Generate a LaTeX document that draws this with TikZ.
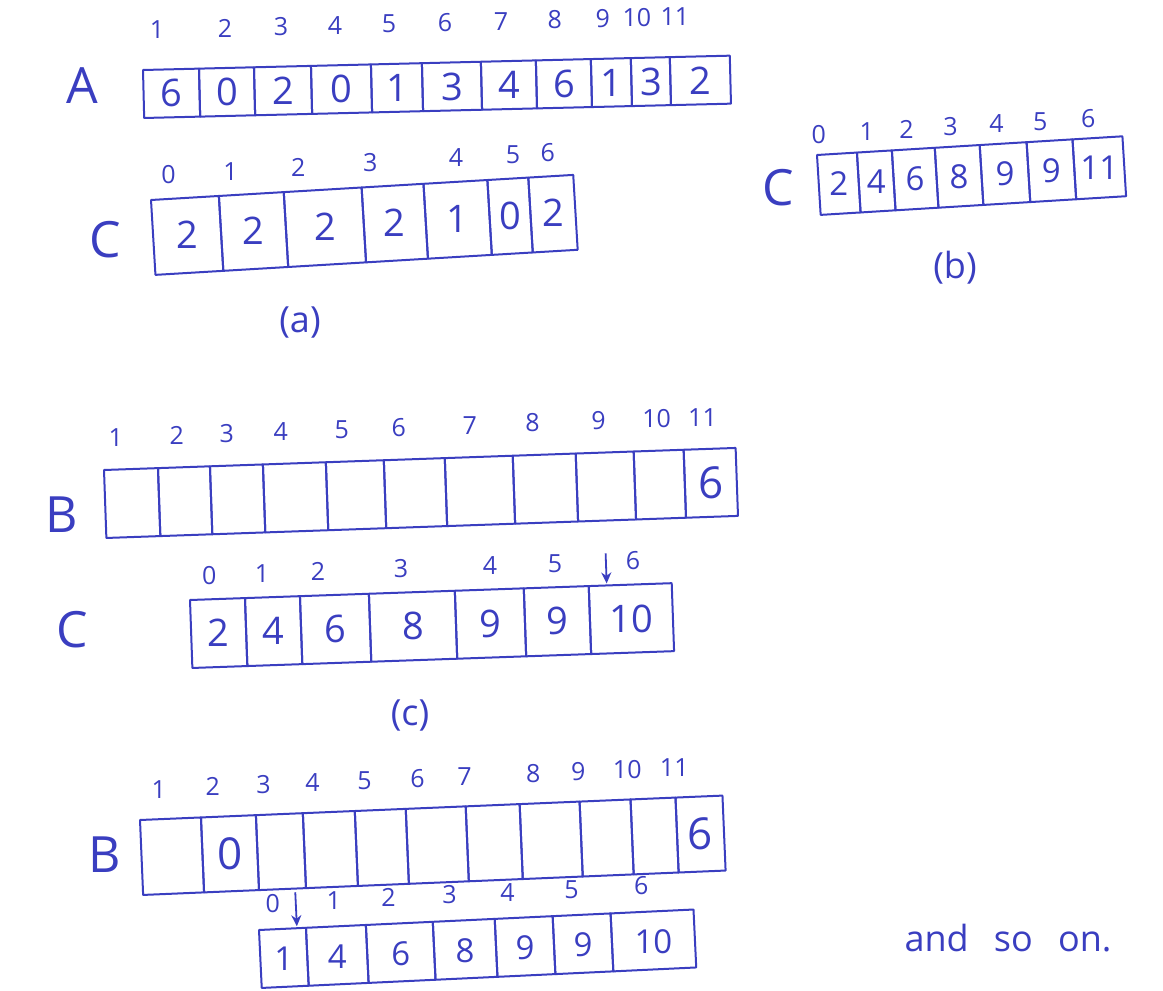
\documentclass[tikz,border=0pt]{standalone}
\usepackage{fontspec}
\setmainfont{Open Sans}
\usetikzlibrary{arrows.meta}
\definecolor{ink}{RGB}{58,62,192}
\tikzset{
  cellbox/.style={draw=ink, line width=2pt, line join=round},
  val/.style={text=ink, font=\fontsize{38}{40}\selectfont},
  smallval/.style={text=ink, font=\fontsize{33}{35}\selectfont},
  bigval/.style={text=ink, font=\fontsize{44}{46}\selectfont},
  idx/.style={text=ink, font=\fontsize{25}{27}\selectfont},
  lab/.style={text=ink, font=\fontsize{50}{52}\selectfont},
  sublab/.style={text=ink, font=\fontsize{36}{38}\selectfont},
  pointer/.style={draw=ink, line width=1.8pt, -{Stealth[length=11pt,width=10pt]}}
}
\begin{document}
\begin{tikzpicture}[x=1pt, y=-1pt]
\useasboundingbox (0,0) rectangle (1163,991);

% input array A
\node[lab] (labA) at (82,86) {A};
\begin{scope}[shift={(143,70)}, rotate=1.4]
  \foreach \a/\b/\v/\p/\n [count=\k] in {0/56/6/15/1, 56/111/0/83/2, 111/168/2/139/3,
      168/228/0/193/4, 228/279/1/247/5, 279/338/3/303/6, 338/393/4/359/7,
      393/448/6/413/8, 448/488/1/461/9, 488/527/3/495/10, 527/587/2/533/11} {
    \draw[cellbox] (\a,0) rectangle (\b,48);
    \node[val] (A\k) at ({(\a+\b)/2},24) {\v};
    \node[idx] (Ai\k) at (\p,-40) {\n};
  }
\end{scope}

% (a) counts
\node[lab] (labCa) at (105,240) {C};
\begin{scope}[shift={(151,200)}, rotate=3.4]
  \foreach \a/\b/\v/\p/\n [count=\k] in {0/68/2/19/0, 68/133/2/81/1, 133/211/2/149/2,
      211/273/2/221/3, 273/337/1/307/4, 337/378/0/364/5, 378/423/2/399/6} {
    \draw[cellbox] (\a,0) rectangle (\b,75);
    \node[val] (Ca\k) at ({(\a+\b)/2},37) {\v};
    \node[idx] (Cai\k) at (\p,-24) {\n};
  }
\end{scope}
\node[sublab] (capa) at (300,322) {(a)};

% (b) running sums
\node[lab] (labCb) at (778,188) {C};
\begin{scope}[shift={(817,155)}, rotate=3.5]
  \foreach \a/\b/\v/\p/\n [count=\k] in {0/40/2/3/0, 40/75/4/51/1, 75/118/6/91/2,
      118/163/8/135/3, 163/210/9/181/4, 210/256/9/225/5, 256/306/11/273/6} {
    \draw[cellbox] (\a,0) rectangle (\b,60);
    \node[smallval] (Cb\k) at ({(\a+\b)/2},30) {\v};
    \node[idx] (Cbi\k) at (\p,-20) {\n};
  }
\end{scope}
\node[sublab] (capb) at (955,268) {(b)};

% output array B, first step
\node[lab] (labBa) at (62,515) {B};
\begin{scope}[shift={(104,470)}, rotate=2]
  \foreach \a/\b/\v/\p/\n [count=\k] in {0/54//13/1, 54/106//74/2, 106/159//124/3,
      159/222//178/4, 222/280//239/5, 280/341//296/6, 341/409//367/7,
      409/472//430/8, 472/530//496/9, 530/580//554/10, 580/632/6/600/11} {
    \draw[cellbox] (\a,0) rectangle (\b,68);
    \node[bigval] (Ba\k) at ({(\a+\b)/2},34) {\v};
    \node[idx] (Bai\k) at (\p,-32) {\n};
  }
\end{scope}

% (c) counts after placing A[11]
\node[lab] (labCc) at (72,630) {C};
\begin{scope}[shift={(190,600)}, rotate=2]
  \foreach \a/\b/\v/\p/\n [count=\k] in {0/55/2/20/0, 55/110/4/73/1, 110/179/6/129/2,
      179/265/8/212/3, 265/334/9/301/4, 334/399/9/366/5, 399/482/10/444/6} {
    \draw[cellbox] (\a,0) rectangle (\b,68);
    \node[val] (Cc\k) at ({(\a+\b)/2},34) {\v};
    \node[idx] (Cci\k) at (\p,-24) {\n};
  }
  \coordinate (ptrCc) at (417,-32);
  \coordinate (ptrCcend) at (417,-2);
\end{scope}
\draw[pointer] (ptrCc) -- (ptrCcend);
\node[sublab] (capc) at (410,715) {(c)};

% output array B, second step
\node[lab] (labBb) at (105,855) {B};
\begin{scope}[shift={(140,820)}, rotate=2.4]
  \foreach \a/\b/\v/\p/\n [count=\k] in {0/61//20/1, 61/116/0/74/2, 116/163//125/3,
      163/215//174/4, 215/266//226/5, 266/326//279/6, 326/380//326/7,
      380/440//395/8, 440/491//440/9, 491/536//489/10, 536/583/6/536/11} {
    \draw[cellbox] (\a,0) rectangle (\b,75);
    \node[bigval] (Bb\k) at ({(\a+\b)/2},37) {\v};
    \node[idx] (Bbi\k) at (\p,-30) {\n};
  }
\end{scope}

% counts after placing A[10]
\begin{scope}[shift={(259,930)}, rotate=2.7]
  \foreach \a/\b/\v/\p/\n [count=\k] in {0/47/1/15/0, 47/107/4/76/1, 107/174/6/131/2,
      174/236/8/192/3, 236/294/9/250/4, 294/352/9/314/5, 352/435/10/384/6} {
    \draw[cellbox] (\a,0) rectangle (\b,58);
    \node[smallval] (Cd\k) at ({(\a+\b)/2},30) {\v};
    \node[idx] (Cdi\k) at (\p,-26) {\n};
  }
  \coordinate (ptrCd) at (38,-36);
  \coordinate (ptrCdend) at (38,-2);
\end{scope}
\draw[pointer] (ptrCd) -- (ptrCdend);

\node[sublab] (more) at (1008,938) {and\hspace{0.7em}so\hspace{0.7em}on.};
\end{tikzpicture}
\end{document}
